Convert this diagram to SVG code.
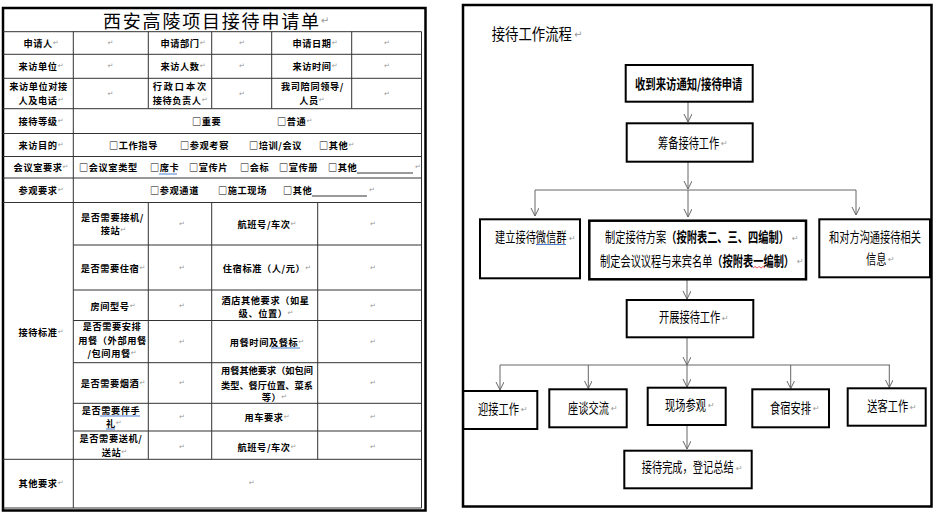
<svg xmlns="http://www.w3.org/2000/svg" width="936" height="513" viewBox="0 0 936 513">
<style>
.tb{font-family:"Noto Sans CJK SC","Liberation Sans",sans-serif;font-size:9.2px;font-weight:bold;letter-spacing:0.6px;dominant-baseline:central;fill:#000}
.c{text-anchor:middle}
.pm{font-family:"DejaVu Sans",sans-serif;font-size:7px;fill:#999;font-weight:normal;letter-spacing:0}
.pf{font-family:"DejaVu Sans",sans-serif;font-size:8px;fill:#999;dominant-baseline:central}
.tl line{stroke:#333;stroke-width:1}
.ft{font-family:"Noto Sans CJK SC","Liberation Sans",sans-serif;font-size:14px;dominant-baseline:central;fill:#000}
.fb{font-weight:bold}
.node rect{fill:#fff;stroke:#000;stroke-width:2}
.conn line{stroke:#666;stroke-width:1;fill:none}
.ul{stroke:#4a7fd0;stroke-width:1}
</style>
<defs>
<marker id="ah" markerUnits="userSpaceOnUse" markerWidth="10" markerHeight="10" refX="8" refY="4" orient="auto">
<path d="M0,0 L8,4 L0,8" fill="none" stroke="#666" stroke-width="1"/>
</marker>
</defs>
<rect width="936" height="513" fill="#fff"/>

<!-- LEFT: application form -->
<g id="form">
<rect x="3" y="8" width="422.5" height="502.5" fill="none" stroke="#000" stroke-width="2.5"/>
<g class="tl">
<line x1="3" y1="31.7" x2="421.5" y2="31.7"/>
<line x1="3" y1="54.3" x2="421.5" y2="54.3"/>
<line x1="3" y1="78.3" x2="421.5" y2="78.3"/>
<line x1="3" y1="108.7" x2="421.5" y2="108.7"/>
<line x1="3" y1="133.5" x2="421.5" y2="133.5"/>
<line x1="3" y1="156.5" x2="421.5" y2="156.5"/>
<line x1="3" y1="178" x2="421.5" y2="178"/>
<line x1="3" y1="202.5" x2="421.5" y2="202.5"/>
<line x1="3" y1="459.3" x2="421.5" y2="459.3"/>
<line x1="3" y1="508" x2="421.5" y2="508"/>
<line x1="73.3" y1="245" x2="421.5" y2="245"/>
<line x1="73.3" y1="290" x2="421.5" y2="290"/>
<line x1="73.3" y1="320.5" x2="421.5" y2="320.5"/>
<line x1="73.3" y1="362.7" x2="421.5" y2="362.7"/>
<line x1="73.3" y1="403.3" x2="421.5" y2="403.3"/>
<line x1="73.3" y1="431" x2="421.5" y2="431"/>
<line x1="73.3" y1="31.7" x2="73.3" y2="508"/>
<line x1="148.3" y1="31.7" x2="148.3" y2="108.7"/>
<line x1="211.7" y1="31.7" x2="211.7" y2="108.7"/>
<line x1="271.7" y1="31.7" x2="271.7" y2="108.7"/>
<line x1="351.7" y1="31.7" x2="351.7" y2="108.7"/>
<line x1="148.3" y1="202.5" x2="148.3" y2="459.3"/>
<line x1="211.7" y1="202.5" x2="211.7" y2="459.3"/>
<line x1="317.7" y1="202.5" x2="317.7" y2="459.3"/>
<line x1="421.5" y1="31.7" x2="421.5" y2="508"/>
</g>
<text x="103" y="20" style="font-family:'Noto Sans CJK SC',sans-serif;font-size:18px;letter-spacing:1.8px;dominant-baseline:central">西安高陵项目接待申请单<tspan class="pm" style="font-size:10px">↵</tspan></text>

<!-- row 1 -->
<text class="tb c" x="41" y="43">申请人<tspan class="pm">↵</tspan></text>
<text class="tb c" x="110.5" y="43"><tspan class="pm">↵</tspan></text>
<text class="tb c" x="183" y="43">申请部门<tspan class="pm">↵</tspan></text>
<text class="tb c" x="242" y="43"><tspan class="pm">↵</tspan></text>
<text class="tb c" x="315" y="43">申请日期<tspan class="pm">↵</tspan></text>
<text class="tb c" x="387" y="43"><tspan class="pm">↵</tspan></text>
<!-- row 2 -->
<text class="tb c" x="41" y="66.3">来访单位<tspan class="pm">↵</tspan></text>
<text class="tb c" x="110.5" y="66.3"><tspan class="pm">↵</tspan></text>
<text class="tb c" x="183" y="66.3">来访人数<tspan class="pm">↵</tspan></text>
<text class="tb c" x="242" y="66.3"><tspan class="pm">↵</tspan></text>
<text class="tb c" x="315" y="66.3">来访时间<tspan class="pm">↵</tspan></text>
<text class="tb c" x="387" y="66.3"><tspan class="pm">↵</tspan></text>
<!-- row 3 -->
<text class="tb c" x="38.5" y="86.3">来访单位对接</text>
<text class="tb c" x="41" y="100.2">人及电话<tspan class="pm">↵</tspan></text>
<text class="tb c" x="110.5" y="93.5"><tspan class="pm">↵</tspan></text>
<text class="tb" x="152.7" y="86.3" style="letter-spacing:1.9px">行政口本次</text>
<text class="tb" x="152.7" y="100.2">接待负责人<tspan class="pm">↵</tspan></text>
<text class="tb c" x="242" y="93.5"><tspan class="pm">↵</tspan></text>
<text class="tb c" x="312.5" y="86.3">我司陪同领导/</text>
<text class="tb c" x="312" y="100.2">人员<tspan class="pm">↵</tspan></text>
<text class="tb c" x="387" y="93.5"><tspan class="pm">↵</tspan></text>
<!-- rows 4-7 -->
<text class="tb c" x="41" y="121">接待等级<tspan class="pm">↵</tspan></text>
<text class="tb" x="192" y="121">□重要</text>
<text class="tb" x="277" y="121">□普通<tspan class="pm">↵</tspan></text>
<text class="tb c" x="41" y="145">来访目的<tspan class="pm">↵</tspan></text>
<text class="tb" x="109" y="145">□工作指导</text>
<text class="tb" x="180" y="145">□参观考察</text>
<text class="tb" x="249" y="145">□培训/会议</text>
<text class="tb" x="319" y="145">□其他<tspan class="pm">↵</tspan></text>
<text class="tb c" x="41" y="167.3">会议室要求<tspan class="pm">↵</tspan></text>
<text class="tb" x="79" y="167.3">□会议室类型</text>
<text class="tb" x="150" y="167.3">□席卡</text>
<line class="ul" x1="159" y1="174" x2="177" y2="174"/>
<text class="tb" x="189" y="167.3">□宣传片</text>
<text class="tb" x="240" y="167.3">□会标</text>
<text class="tb" x="279" y="167.3">□宣传册</text>
<text class="tb" x="328" y="167.3">□其他</text>
<line x1="357" y1="173" x2="413" y2="173" stroke="#000" stroke-width="0.8"/>
<text class="tb" x="415" y="167.3"><tspan class="pm">↵</tspan></text>
<text class="tb c" x="41" y="190">参观要求<tspan class="pm">↵</tspan></text>
<text class="tb" x="150" y="190">□参观通道</text>
<text class="tb" x="218" y="190">□施工现场</text>
<text class="tb" x="283" y="190">□其他</text>
<line x1="312" y1="196" x2="367" y2="196" stroke="#000" stroke-width="0.8"/>
<text class="tb" x="369" y="190"><tspan class="pm">↵</tspan></text>

<!-- reception standard -->
<text class="tb c" x="41" y="331.7">接待标准<tspan class="pm">↵</tspan></text>
<text class="tb c" x="112.5" y="217">是否需要接机/</text>
<text class="tb c" x="113.5" y="230">接站<tspan class="pm">↵</tspan></text>
<text class="tb c" x="182" y="224"><tspan class="pm">↵</tspan></text>
<text class="tb c" x="267" y="224">航班号/车次<tspan class="pm">↵</tspan></text>
<text class="tb c" x="373" y="224"><tspan class="pm">↵</tspan></text>

<text class="tb c" x="113" y="267.5">是否需要住宿<tspan class="pm">↵</tspan></text>
<text class="tb c" x="182" y="267.5"><tspan class="pm">↵</tspan></text>
<text class="tb c" x="267" y="267.5">住宿标准（人/元）<tspan class="pm">↵</tspan></text>
<text class="tb c" x="373" y="267.5"><tspan class="pm">↵</tspan></text>

<text class="tb c" x="113" y="306">房间型号<tspan class="pm">↵</tspan></text>
<text class="tb c" x="182" y="306"><tspan class="pm">↵</tspan></text>
<text class="tb c" x="265.5" y="300">酒店其他要求（如星</text>
<text class="tb c" x="266" y="312.5">级、位置）<tspan class="pm">↵</tspan></text>
<text class="tb c" x="373" y="306"><tspan class="pm">↵</tspan></text>

<text class="tb c" x="112" y="326">是否需要安排</text>
<text class="tb c" x="112.5" y="339.5">用餐（外部用餐</text>
<text class="tb c" x="112" y="353">/包间用餐<tspan class="pm">↵</tspan></text>
<text class="tb c" x="182" y="341.7"><tspan class="pm">↵</tspan></text>
<text class="tb c" x="267" y="341.7">用餐时间及餐标<tspan class="pm">↵</tspan></text>
<line class="ul" x1="271" y1="348" x2="300" y2="348"/>
<text class="tb c" x="373" y="341.7"><tspan class="pm">↵</tspan></text>

<text class="tb c" x="113" y="383.3">是否需要烟酒<tspan class="pm">↵</tspan></text>
<text class="tb c" x="182" y="383.3"><tspan class="pm">↵</tspan></text>
<text class="tb c" x="267" y="370" style="letter-spacing:0px">用餐其他要求（如包间</text>
<text class="tb c" x="267" y="385" style="letter-spacing:0px">类型、餐厅位置、菜系</text>
<text class="tb" x="261.7" y="397.3">等）<tspan class="pm">↵</tspan></text>
<text class="tb c" x="373" y="383.3"><tspan class="pm">↵</tspan></text>

<text class="tb c" x="111" y="410">是否需要伴手</text>
<line class="ul" x1="100" y1="416" x2="140" y2="416"/>
<text class="tb" x="106" y="423.3">礼<tspan class="pm">↵</tspan></text>
<line class="ul" x1="106" y1="429" x2="115" y2="429"/>
<text class="tb c" x="182" y="416.7"><tspan class="pm">↵</tspan></text>
<text class="tb c" x="267" y="416.7">用车要求<tspan class="pm">↵</tspan></text>
<text class="tb c" x="373" y="416.7"><tspan class="pm">↵</tspan></text>

<text class="tb c" x="111" y="438.3">是否需要送机/</text>
<text class="tb" x="101.7" y="451.7">送站<tspan class="pm">↵</tspan></text>
<text class="tb c" x="182" y="446.7"><tspan class="pm">↵</tspan></text>
<text class="tb c" x="267" y="446.7">航班号/车次<tspan class="pm">↵</tspan></text>
<text class="tb c" x="373" y="446.7"><tspan class="pm">↵</tspan></text>

<text class="tb c" x="41" y="483.3">其他要求<tspan class="pm">↵</tspan></text>
<text class="tb c" x="251.7" y="483.3"><tspan class="pm">↵</tspan></text>
</g>

<!-- RIGHT: flowchart -->
<rect x="463" y="5" width="468.5" height="501.5" fill="none" stroke="#000" stroke-width="2.5"/>
<text class="ft" transform="translate(491.7,33.3) scale(0.836,1)" style="font-size:16px">接待工作流程</text>
<text class="pf" x="574" y="34" style="font-size:10px">↵</text>

<g id="connectors" class="conn">
<line x1="688" y1="102" x2="688" y2="122" marker-end="url(#ah)"/>
<line x1="688" y1="162" x2="688" y2="189" marker-end="url(#ah)"/>
<line x1="535" y1="190" x2="856" y2="190"/>
<line x1="535" y1="190" x2="535" y2="216" marker-end="url(#ah)"/>
<line x1="688" y1="190" x2="688" y2="217" marker-end="url(#ah)"/>
<line x1="856" y1="190" x2="856" y2="215" marker-end="url(#ah)"/>
<line x1="687" y1="280" x2="687" y2="299" marker-end="url(#ah)"/>
<line x1="687" y1="338" x2="687" y2="365" marker-end="url(#ah)"/>
<line x1="500" y1="365" x2="890" y2="365"/>
<line x1="500" y1="365" x2="500" y2="390" marker-end="url(#ah)"/>
<line x1="588.3" y1="365" x2="588.3" y2="388.5" marker-end="url(#ah)"/>
<line x1="687" y1="365" x2="687" y2="387" marker-end="url(#ah)"/>
<line x1="790.7" y1="365" x2="790.7" y2="388.5" marker-end="url(#ah)"/>
<line x1="889.3" y1="365" x2="889.3" y2="387.5" marker-end="url(#ah)"/>
<line x1="687" y1="426" x2="687" y2="449" marker-end="url(#ah)"/>
</g>

<g id="n1" class="node">
<rect x="625.7" y="65" width="127" height="36.7"/>
<text class="ft fb" transform="translate(635,83) scale(0.74,1)">收到来访通知/接待申请</text>
</g>
<g id="n2" class="node">
<rect x="626.7" y="123.3" width="126" height="38.4"/>
<text class="ft" transform="translate(658,142) scale(0.73,1)">筹备接待工作</text>
<text class="pf" x="721" y="143">↵</text>
</g>
<g id="n3a" class="node">
<rect x="480" y="219.3" width="100" height="59"/>
<text class="ft" transform="translate(495,236.7) scale(0.73,1)">建立接待微信群</text>
<line class="ul" x1="536" y1="244.5" x2="566" y2="244.5"/>
<text class="pf" x="569" y="238">↵</text>
</g>
<g id="n3b" class="node">
<rect x="589.3" y="220.7" width="216.7" height="58.6" style="stroke-width:2.5"/>
<text class="ft" transform="translate(605,236.7) scale(0.73,1)">制定接待方案<tspan class="fb">（按附表二、三、四编制）</tspan></text>
<text class="pf" x="792" y="238">↵</text>
<text class="ft" transform="translate(600,260) scale(0.73,1)">制定会议议程与来宾名单<tspan class="fb">（按附表一编制）</tspan></text>
<path d="M753,268 l2,-1.5 l2,1.5 l2,-1.5 l2,1.5 l2,-1.5 l2,1.5" fill="none" stroke="#e03030" stroke-width="0.8"/>
<text class="pf" x="797" y="261">↵</text>
</g>
<g id="n3c" class="node">
<rect x="819.3" y="219.3" width="110.7" height="58"/>
<text class="ft" transform="translate(829,236.7) scale(0.73,1)">和对方沟通接待相关</text>
<text class="ft" transform="translate(866,258) scale(0.73,1)">信息</text>
<text class="pf" x="888" y="259">↵</text>
</g>
<g id="n4" class="node">
<rect x="626.7" y="300" width="126.6" height="37.3"/>
<text class="ft" transform="translate(659,316.7) scale(0.73,1)">开展接待工作</text>
<text class="pf" x="722" y="318">↵</text>
</g>
<g id="n5a" class="node">
<rect x="463.3" y="391" width="74" height="38"/>
<text class="ft" transform="translate(478,408.3) scale(0.73,1)">迎接工作</text>
<text class="pf" x="521" y="409.5">↵</text>
</g>
<g id="n5b" class="node">
<rect x="549.3" y="389.3" width="77.4" height="38"/>
<text class="ft" transform="translate(568,407) scale(0.73,1)">座谈交流</text>
<text class="pf" x="611" y="408">↵</text>
</g>
<g id="n5c" class="node">
<rect x="647.7" y="387.7" width="78" height="37.3"/>
<text class="ft" transform="translate(665,404) scale(0.73,1)">现场参观</text>
<text class="pf" x="708" y="405">↵</text>
</g>
<g id="n5d" class="node">
<rect x="752.3" y="389.3" width="76.7" height="38"/>
<text class="ft" transform="translate(770,407.3) scale(0.73,1)">食宿安排</text>
<text class="pf" x="813" y="408.5">↵</text>
</g>
<g id="n5e" class="node">
<rect x="847.7" y="388.3" width="78" height="37.4"/>
<text class="ft" transform="translate(867.3,405.7) scale(0.73,1)">送客工作</text>
<text class="pf" x="910" y="407">↵</text>
</g>
<g id="n6" class="node">
<rect x="624.3" y="450.7" width="127.4" height="37.6"/>
<text class="ft" transform="translate(641.7,466.7) scale(0.73,1)">接待完成，登记总结</text>
<text class="pf" x="736" y="468">↵</text>
</g>
</svg>
